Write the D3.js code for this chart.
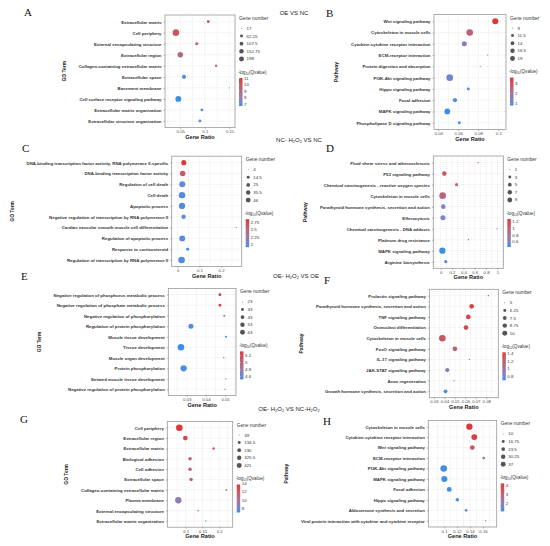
<!DOCTYPE html>
<html>
<head>
<meta charset="utf-8">
<script src="https://cdn.jsdelivr.net/npm/d3@7"></script>
<style>
  html, body { margin: 0; padding: 0; background: #fff; }
  svg { display: block; font-family: "Liberation Sans", Arial, sans-serif; }
</style>
</head>
<body>
<div id="chart"></div>
<script>
// ---- datos ----
const termsA = ['Extracellular matrix', 'Cell periphery', 'External encapsulating structure', 'Extracellular region',
  'Collagen-containing extracellular matrix', 'Extracellular space', 'Basement membrane',
  'Cell surface receptor signaling pathway', 'Extracellular matrix organization', 'Extracellular structure organization'];
const ratioA = [0.107, 0.041, 0.0835, 0.05, 0.123, 0.0576, 0.15, 0.046, 0.094, 0.09];
const countA = [30, 198, 35, 130, 25, 70, 17, 150, 30, 32];
const qA = [11.05, 10.0, 9.9, 9.3, 8.8, 7.0, 7.9, 6.7, 7.1, 7.1];
const ticksA = [0.05, 0.1, 0.15];
const qBreaksA = [7, 8, 9, 10, 11];

const termsB = ['Wnt signaling pathway', 'Cytoskeleton in muscle cells', 'Cytokine-cytokine receptor interaction',
  'ECM-receptor interaction', 'Protein digestion and absorption', 'PI3K-Akt signaling pathway',
  'Hippo signaling pathway', 'Focal adhesion', 'MAPK signaling pathway', 'Phospholipase D signaling pathway'];
const ratioB = [0.097, 0.0714, 0.066, 0.0894, 0.082, 0.0514, 0.070, 0.0567, 0.049, 0.061];
const countB = [17, 19, 14, 9, 9, 19, 10, 12, 16, 10];
const qB = [3.6, 2.6, 1.5, 1.9, 1.6, 1.2, 1.05, 1.0, 0.8, 0.9];
const ticksB = [0.04, 0.06, 0.08, 0.1];
const qBreaksB = [1, 2, 3];

const termsC = ['DNA-binding transcription factor activity, RNA polymerase II-specific',
  'DNA-binding transcription factor activity', 'Regulation of cell death', 'Cell death', 'Apoptotic process',
  'Negative regulation of transcription by RNA polymerase II', 'Cardiac vascular smooth muscle cell differentiation',
  'Regulation of apoptotic process', 'Response to corticosteroid', 'Regulation of transcription by RNA polymerase II'];
const ratioC = [0.028, 0.023, 0.021, 0.02, 0.02, 0.027, 0.27, 0.021, 0.046, 0.018];
const countC = [26, 30, 38, 44, 40, 18, 4, 36, 8, 46];
const qC = [2.87, 2.6, 2.0, 1.95, 1.95, 2.0, 1.95, 1.95, 1.9, 1.95];
const ticksC = [0, 0.1, 0.2];
const qBreaksC = [2, 2.25, 2.5, 2.75];

const termsD = ['Fluid shear stress and atherosclerosis', 'P53 signaling pathway',
  'Chemical carcinogenesis - reactive oxygen species', 'Cytoskeleton in muscle cells',
  'Parathyroid hormone synthesis, secretion and action', 'Efferocytosis', 'Chemical carcinogenesis - DNA adducts',
  'Platinum drug resistance', 'MAPK signaling pathway', 'Arginine biosynthesis'];
const ratioD = [0.66, 0.064, 0.28, 0.035, 0.046, 0.04, 0.99, 0.49, 0.03, 0.09];
const countD = [1, 4, 2, 9, 4, 5, 1, 1, 8, 2];
const qD = [1.28, 1.05, 1.0, 0.95, 0.6, 0.6, 0.65, 0.7, 0.45, 0.5];
const ticksD = [0, 0.2, 0.4, 0.6, 0.8, 1];
const qBreaksD = [0.6, 0.8, 1, 1.2];

const termsE = ['Negative regulation of phosphorus metabolic process', 'Negative regulation of phosphate metabolic process',
  'Negative regulation of phosphorylation', 'Regulation of protein phosphorylation', 'Muscle tissue development',
  'Tissue development', 'Muscle organ development', 'Protein phosphorylation', 'Striated muscle tissue development',
  'Negative regulation of protein phosphorylation'];
const ratioE = [0.0473, 0.0473, 0.0496, 0.0322, 0.0505, 0.027, 0.0493, 0.0284, 0.0505, 0.05];
const countE = [26, 26, 24, 43, 24, 63, 23, 58, 23, 23];
const qE = [5.32, 5.3, 4.7, 4.55, 4.55, 4.52, 4.55, 4.55, 4.55, 4.55];
const ticksE = [0.03, 0.04, 0.05];
const qBreaksE = [4.6, 4.8, 5, 5.2];

const termsF = ['Prolactin signaling pathway', 'Parathyroid hormone synthesis, secretion and action',
  'TNF signaling pathway', 'Osteoclast differentiation', 'Cytoskeleton in muscle cells', 'FoxO signaling pathway',
  'IL-17 signaling pathway', 'JAK-STAT signaling pathway', 'Axon regeneration',
  'Growth hormone synthesis, secretion and action'];
const ratioF = [0.082, 0.066, 0.0628, 0.0606, 0.038, 0.05, 0.0638, 0.0427, 0.049, 0.041];
const countF = [5, 7, 7, 7, 10, 7, 5, 6.5, 5, 6];
const qF = [1.43, 1.38, 1.36, 1.35, 1.25, 1.2, 1.0, 0.92, 1.0, 0.7];
const ticksF = [0.03, 0.04, 0.05, 0.06, 0.07, 0.08];
const qBreaksF = [0.8, 1, 1.2, 1.4];

const termsG = ['Cell periphery', 'Extracellular region', 'Extracellular matrix', 'Biological adhesion',
  'Cell adhesion', 'Extracellular space', 'Collagen-containing extracellular matrix', 'Plasma membrane',
  'External encapsulating structure', 'Extracellular matrix organization'];
const ratioG = [0.081, 0.099, 0.183, 0.113, 0.113, 0.116, 0.221, 0.078, 0.137, 0.16];
const countG = [421, 200, 60, 110, 108, 100, 42, 380, 40, 39];
const qG = [13.8, 13.0, 11.7, 11.3, 11.3, 11.2, 10.2, 9.0, 8.8, 7.0];
const ticksG = [0.1, 0.15, 0.2];
const qBreaksG = [8, 10, 12, 14];

const termsH = ['Cytoskeleton in muscle cells', 'Cytokine-cytokine receptor interaction', 'Wnt signaling pathway',
  'ECM-receptor interaction', 'PI3K-Akt signaling pathway', 'MAPK signaling pathway', 'Focal adhesion',
  'Hippo signaling pathway', 'Aldosterone synthesis and secretion',
  'Viral protein interaction with cytokine and cytokine receptor'];
const ratioH = [0.139, 0.1466, 0.1435, 0.161, 0.0995, 0.1005, 0.108, 0.1205, 0.134, 0.164];
const countH = [34, 31, 22, 12, 37, 32, 22, 15, 12, 10];
const qH = [4.18, 4.0, 3.3, 2.0, 1.2, 1.2, 1.16, 1.3, 1.4, 1.8];
const ticksH = [0.1, 0.12, 0.14, 0.16];
const qBreaksH = [2, 3, 4];

// ---- maquetacion ----
const panels = [
  { letra: 'A', terms: termsA, ratio: ratioA, count: countA, q: qA, ticks: ticksA, qBreaks: qBreaksA, yTitle: 'GO Term',
    box: { x0: 165, x1: 235, y0: 15, y1: 127.6 }, xDomain: [0.0188, 0.1616], letraPos: [24, 16] },
  { letra: 'B', terms: termsB, ratio: ratioB, count: countB, q: qB, ticks: ticksB, qBreaks: qBreaksB, yTitle: 'Pathway',
    box: { x0: 434, x1: 506, y0: 14.5, y1: 129.5 }, xDomain: [0.0357, 0.1077], letraPos: [326, 17] },
  { letra: 'C', terms: termsC, ratio: ratioC, count: countC, q: qC, ticks: ticksC, qBreaks: qBreaksC, yTitle: 'GO Term',
    box: { x0: 171.7, x1: 241.7, y0: 156.2, y1: 266.5 }, xDomain: [-0.0276, 0.295], letraPos: [22, 152] },
  { letra: 'D', terms: termsD, ratio: ratioD, count: countD, q: qD, ticks: ticksD, qBreaks: qBreaksD, yTitle: 'Pathway',
    box: { x0: 433.3, x1: 503.3, y0: 156, y1: 268.3 }, xDomain: [-0.13, 1.104], letraPos: [326, 152] },
  { letra: 'E', terms: termsE, ratio: ratioE, count: countE, q: qE, ticks: ticksE, qBreaks: qBreaksE, yTitle: 'GO Term',
    box: { x0: 168.3, x1: 236, y0: 288.4, y1: 395.6 }, xDomain: [0.0204, 0.0557], letraPos: [21, 280] },
  { letra: 'F', terms: termsF, ratio: ratioF, count: countF, q: qF, ticks: ticksF, qBreaks: qBreaksF, yTitle: 'Pathway',
    box: { x0: 429.3, x1: 498.3, y0: 289.3, y1: 397.7 }, xDomain: [0.0255, 0.0915], letraPos: [324, 284] },
  { letra: 'G', terms: termsG, ratio: ratioG, count: countG, q: qG, ticks: ticksG, qBreaks: qBreaksG, yTitle: 'GO Term',
    box: { x0: 167.3, x1: 232.7, y0: 421.5, y1: 527.2 }, xDomain: [0.0452, 0.24], letraPos: [20, 423] },
  { letra: 'H', terms: termsH, ratio: ratioH, count: countH, q: qH, ticks: ticksH, qBreaks: qBreaksH, yTitle: 'Pathway',
    box: { x0: 428.3, x1: 496.7, y0: 420.4, y1: 527 }, xDomain: [0.0758, 0.181], letraPos: [323, 425] }
];

const encabezados = [
  { partes: [['OE VS NC', 0]], x: 294, y: 15 },
  { partes: [['NC- H', 0], ['2', 1], ['O', 0], ['2', 1], [' VS NC', 0]], x: 299, y: 142 },
  { partes: [['OE- H', 0], ['2', 1], ['O', 0], ['2', 1], [' VS OE', 0]], x: 296, y: 278 },
  { partes: [['OE- H', 0], ['2', 1], ['O', 0], ['2', 1], [' VS NC-H', 0], ['2', 1], ['O', 0], ['2', 1]], x: 289, y: 411 }
];

const W = 550, H = 546;
const svg = d3.select('#chart').append('svg').attr('width', W).attr('height', H);
svg.append('rect').attr('width', W).attr('height', H).attr('fill', '#fff');
const defs = svg.append('defs');

const colorLow = '#3a8fe8', colorHigh = '#da3a3a';
const rMin = 0.65, rMax = 3.3, legendFactor = 0.75;

panels.forEach(dibujarPanel);

encabezados.forEach(e => {
  const t = svg.append('text')
    .attr('x', e.x).attr('y', e.y)
    .attr('text-anchor', 'middle')
    .style('font-size', '6px')
    .attr('fill', '#222');
  e.partes.forEach(([s, sub]) => {
    t.append('tspan')
      .text(s)
      .attr('baseline-shift', sub ? '-25%' : null)
      .style('font-size', sub ? '4px' : null);
  });
});

function dibujarPanel(p) {
  const b = p.box;
  const g = svg.append('g');
  const datos = p.terms.map((t, i) => ({ term: t, ratio: p.ratio[i], count: p.count[i], q: p.q[i] }));

  const x = d3.scaleLinear().domain(p.xDomain).range([b.x0, b.x1]);
  const y = d3.scalePoint().domain(p.terms).range([b.y0, b.y1]).padding(0.6);

  const [cMin, cMax] = d3.extent(p.q);
  const color = d3.scaleLinear().domain([cMin, cMax]).range([colorLow, colorHigh]).interpolate(d3.interpolateLab);
  const [nMin, nMax] = d3.extent(p.count);
  const rNorm = d3.scaleSqrt().domain([0, nMax - nMin]).range([rMin, rMax]);
  const radio = v => rNorm(v - nMin);

  // letra del panel
  svg.append('text')
    .attr('x', p.letraPos[0]).attr('y', p.letraPos[1])
    .style('font-family', '"Liberation Serif", "Times New Roman", serif')
    .style('font-size', '11px')
    .attr('fill', '#111')
    .text(p.letra);

  // rejilla
  const paso = p.ticks[1] - p.ticks[0];
  const menores = [p.ticks[0] - paso / 2, ...p.ticks.map(t => t + paso / 2)]
    .filter(v => v > p.xDomain[0] && v < p.xDomain[1]);
  g.append('g').selectAll('line.v')
    .data([...p.ticks, ...menores])
    .join('line')
    .attr('x1', d => x(d)).attr('x2', d => x(d))
    .attr('y1', b.y0).attr('y2', b.y1)
    .attr('stroke', '#d9d9d9').attr('stroke-width', 0.5).attr('stroke-dasharray', '1,1');
  g.append('g').selectAll('line.h')
    .data(p.terms)
    .join('line')
    .attr('x1', b.x0).attr('x2', b.x1)
    .attr('y1', d => y(d)).attr('y2', d => y(d))
    .attr('stroke', '#d9d9d9').attr('stroke-width', 0.5).attr('stroke-dasharray', '1,1');

  // puntos
  g.append('g').selectAll('circle')
    .data(datos)
    .join('circle')
    .attr('cx', d => x(d.ratio))
    .attr('cy', d => y(d.term))
    .attr('r', d => radio(d.count))
    .attr('fill', d => color(d.q));

  // marco
  g.append('rect')
    .attr('x', b.x0).attr('y', b.y0)
    .attr('width', b.x1 - b.x0).attr('height', b.y1 - b.y0)
    .attr('fill', 'none').attr('stroke', '#9a9a9a').attr('stroke-width', 0.8);

  // eje x
  const ejeX = g.append('g')
    .attr('transform', `translate(0,${b.y1})`)
    .call(d3.axisBottom(x).tickValues(p.ticks).tickSize(1.5).tickPadding(1).tickFormat(d3.format('~g')));
  ejeX.select('.domain').remove();
  ejeX.selectAll('line').attr('stroke', '#555').attr('stroke-width', 0.4);
  ejeX.selectAll('text').attr('fill', '#4d4d4d').style('font-size', '4.3px').style('font-family', null);

  g.append('text')
    .attr('x', (b.x0 + b.x1) / 2).attr('y', b.y1 + 11)
    .attr('text-anchor', 'middle')
    .style('font-size', '5.6px').style('font-weight', 'bold')
    .attr('fill', '#222')
    .text('Gene Ratio');

  // eje y
  const ejeY = g.append('g')
    .attr('transform', `translate(${b.x0},0)`)
    .call(d3.axisLeft(y).tickSize(1.5).tickPadding(2));
  ejeY.select('.domain').remove();
  ejeY.selectAll('line').attr('stroke', '#555').attr('stroke-width', 0.4);
  ejeY.selectAll('text')
    .attr('fill', '#333')
    .style('font-size', '4.35px').style('font-weight', 'bold').style('font-family', null);

  let anchoMax = 0;
  ejeY.selectAll('text').each(function () { anchoMax = Math.max(anchoMax, this.getComputedTextLength()); });
  const yt = b.x0 - 3.5 - anchoMax - 13;
  g.append('text')
    .attr('transform', `translate(${yt},${(b.y0 + b.y1) / 2}) rotate(-90)`)
    .attr('text-anchor', 'middle')
    .style('font-size', '4.9px').style('font-weight', 'bold')
    .attr('fill', '#222')
    .text(p.yTitle);

  // leyenda de tamano
  const lx = b.x1 + 4;
  const ley = g.append('g');
  ley.append('text')
    .attr('x', lx).attr('y', b.y0 + 5)
    .style('font-size', '4.8px').attr('fill', '#333')
    .text('Gene number');
  const valores = d3.range(5).map(i => nMin + i * (nMax - nMin) / 4);
  const item = ley.selectAll('g.item')
    .data(valores)
    .join('g')
    .attr('transform', (d, i) => `translate(${lx + 2.5},${b.y0 + 13.5 + i * 7.6})`);
  item.append('circle')
    .attr('r', d => radio(d) * legendFactor)
    .attr('fill', '#555');
  item.append('text')
    .attr('x', 5).attr('dy', '0.35em')
    .style('font-size', '4.4px').attr('fill', '#333')
    .text(d => +d.toFixed(2));

  // leyenda de color
  const titulo = ley.append('text')
    .attr('x', lx - 1).attr('y', b.y0 + 58.5)
    .style('font-size', '4.6px').attr('fill', '#333');
  titulo.append('tspan').text('-log');
  titulo.append('tspan').text('10').style('font-size', '3px').attr('dy', 1.2);
  titulo.append('tspan').text('(Qvalue)').attr('dy', -1.2);

  const barTop = b.y0 + 63, barH = 28, barW = 3.5;
  const gid = 'grad' + p.letra;
  const grad = defs.append('linearGradient').attr('id', gid)
    .attr('x1', 0).attr('y1', 1).attr('x2', 0).attr('y2', 0);
  d3.range(11).forEach(i => {
    grad.append('stop')
      .attr('offset', i / 10)
      .attr('stop-color', color(cMin + i * (cMax - cMin) / 10));
  });
  const cy = d3.scaleLinear().domain([cMin, cMax]).range([barTop + barH, barTop]);
  ley.append('rect')
    .attr('x', lx).attr('y', barTop)
    .attr('width', barW).attr('height', barH)
    .attr('fill', `url(#${gid})`);
  ley.selectAll('line.cb')
    .data(p.qBreaks)
    .join('line')
    .attr('x1', lx).attr('x2', lx + 0.8)
    .attr('y1', d => cy(d)).attr('y2', d => cy(d))
    .attr('stroke', '#fff').attr('stroke-width', 0.4);
  ley.selectAll('text.cb')
    .data(p.qBreaks)
    .join('text')
    .attr('x', lx + barW + 1.5).attr('y', d => cy(d))
    .attr('dy', '0.35em')
    .style('font-size', '4.4px').attr('fill', '#333')
    .text(d => d);
}
</script>
</body>
</html>
